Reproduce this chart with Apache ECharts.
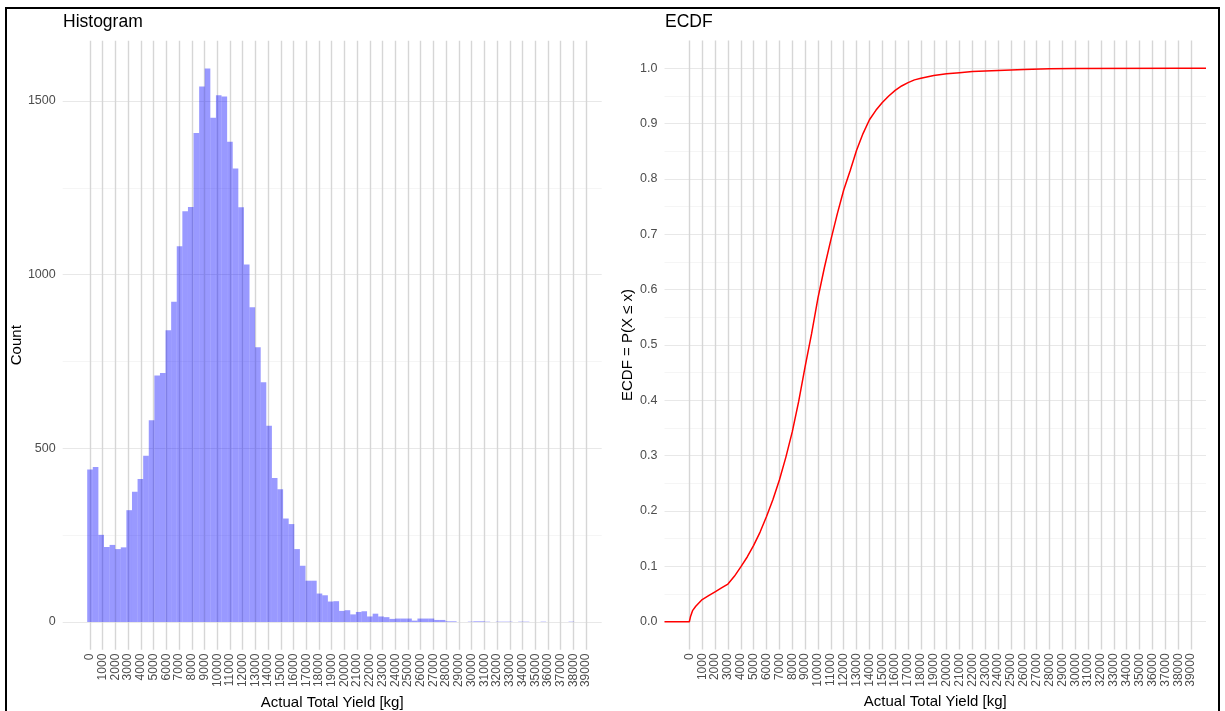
<!DOCTYPE html>
<html>
<head>
<meta charset="utf-8">
<title>Histogram / ECDF</title>
<script src="https://cdn.jsdelivr.net/npm/echarts@6/dist/echarts.min.js"></script>
<style>
  html, body { margin: 0; padding: 0; background: #fff; }
  #chart { width: 1225px; height: 711px; }
</style>
</head>
<body>
<div id="chart"></div>
<script>
// histogram: bins of 440 kg, first bin centred on 0
var binWidth = 440;
var binCounts = [
  439, 446, 251, 216, 222, 210, 215, 322, 375, 412,
  479, 581, 710, 717, 840, 922, 1082, 1183, 1195, 1408,
  1542, 1594, 1452, 1517, 1513, 1383, 1306, 1194, 1029, 906,
  791, 690, 565, 415, 382, 298, 282, 210, 162, 119,
  119, 82, 77, 59, 60, 32, 34, 22, 29, 31,
  16, 24, 16, 14, 9, 10, 10, 10, 4, 10,
  10, 10, 6, 6, 2, 2, 0, 0, 1, 2,
  2, 1, 0, 1, 1, 1, 0, 1, 1, 0,
  0, 1, 0, 0, 0, 0, 1, 0
];

// ecdf
var ecdfX = [0, 100, 250, 500, 1000, 1500, 2000, 2500, 3000, 3500,
  4000, 4500, 5000, 5500, 6000, 6500, 7000, 7500, 8000, 8500,
  9000, 9500, 10000, 10500, 11000, 11500, 12000, 12500, 13000, 13500,
  14000, 14500, 15000, 15500, 16000, 16500, 17000, 17500, 18000, 19000,
  20000, 21000, 22000, 23000, 24000, 25000, 26000, 28000, 30000, 38200];
var ecdfY = [0, 0.01, 0.02, 0.028, 0.04, 0.047, 0.054, 0.061, 0.068, 0.082,
  0.099, 0.117, 0.138, 0.162, 0.19, 0.221, 0.256, 0.297, 0.343, 0.398,
  0.461, 0.52, 0.585, 0.64, 0.69, 0.737, 0.78, 0.815, 0.852, 0.882,
  0.907, 0.924, 0.938, 0.95, 0.96, 0.968, 0.974, 0.979, 0.982, 0.987,
  0.99, 0.992, 0.994, 0.995, 0.996, 0.997, 0.998, 0.999, 0.9995, 1.0];

var xTicks = [];
for (var t = 0; t <= 39000; t += 1000) xTicks.push(t);
var countTicks = [0, 500, 1000, 1500];
var countMinor = [250, 750, 1250];
var ecdfTicks = [0, 0.1, 0.2, 0.3, 0.4, 0.5, 0.6, 0.7, 0.8, 0.9, 1.0];
var ecdfMinor = [0.05, 0.15, 0.25, 0.35, 0.45, 0.55, 0.65, 0.75, 0.85, 0.95];

var histRange = [-2146, 40226];
var ecdfRange = [-1930, 40160];

var histData = binCounts.map(function (c, i) { return [i * binWidth, c]; });
var ecdfData = [[ecdfRange[0], 0]];
for (var i = 0; i < ecdfX.length; i++) ecdfData.push([ecdfX[i], ecdfY[i]]);
ecdfData.push([ecdfRange[1], 1]);

var fam = 'Liberation Sans, Arial, sans-serif';
var labelFont = { color: '#4d4d4d', fontSize: 12.5, fontFamily: fam };
var nameFont = { color: '#000', fontSize: 15, fontFamily: fam };

function xAxisFor(idx, range) {
  return {
    type: 'value', gridIndex: idx, min: range[0], max: range[1],
    name: 'Actual Total Yield [kg]', nameLocation: 'middle', nameGap: 44,
    nameTextStyle: nameFont,
    axisLine: { show: false },
    axisTick: { show: false, customValues: xTicks },
    axisLabel: Object.assign({ customValues: xTicks, rotate: 90, margin: 4,
      interval: 0, hideOverlap: false,
      formatter: function (v) { return String(v); } }, labelFont, { fontSize: 12 }),
    splitLine: { show: true, lineStyle: { color: '#d6d6d6', width: 1.4 } }
  };
}

function yAxisFor(idx, range, ticks, fmt, name, gap) {
  return {
    type: 'value', gridIndex: idx, min: range[0], max: range[1],
    name: name, nameLocation: 'middle', nameGap: gap, nameTextStyle: nameFont,
    axisLine: { show: false },
    axisTick: { show: false, customValues: ticks },
    axisLabel: Object.assign({ customValues: ticks, margin: 7, formatter: fmt,
      showMinLabel: true, showMaxLabel: true }, labelFont),
    splitLine: { show: true, lineStyle: { color: '#e8e8e8', width: 1 } }
  };
}

function minorAxisFor(idx, range, ticks) {
  return {
    type: 'value', gridIndex: idx, min: range[0], max: range[1],
    axisLine: { show: false },
    axisTick: { show: false, customValues: ticks },
    axisLabel: { show: false, customValues: ticks },
    splitLine: { show: true, lineStyle: { color: '#f3f3f3', width: 0.8 } }
  };
}

var titleStyle = { fontSize: 17.5, fontWeight: 'normal', color: '#000', fontFamily: fam };

var chart = echarts.init(document.getElementById('chart'));
chart.setOption({
  animation: false,
  backgroundColor: '#fff',
  title: [
    { text: 'Histogram', left: 63, top: 13, padding: 0, textStyle: titleStyle },
    { text: 'ECDF', left: 665, top: 13, padding: 0, textStyle: titleStyle }
  ],
  graphic: [{
    type: 'rect', z: 100, silent: true,
    shape: { x: 6, y: 8, width: 1213, height: 710 },
    style: { fill: 'none', stroke: '#000', lineWidth: 2 }
  }],
  grid: [
    { left: 62.7, right: 623.3, top: 40.7, bottom: 61.3, outerBoundsMode: 'none', containLabel: false },
    { left: 664.5, right: 19, top: 40.6, bottom: 61.6, outerBoundsMode: 'none', containLabel: false }
  ],
  xAxis: [xAxisFor(0, histRange), xAxisFor(1, ecdfRange)],
  yAxis: [
    yAxisFor(0, [-79.7, 1673.7], countTicks, function (v) { return String(v); }, 'Count', 38),
    minorAxisFor(0, [-79.7, 1673.7], countMinor),
    yAxisFor(1, [-0.05, 1.05], ecdfTicks, function (v) { return v.toFixed(1); }, 'ECDF = P(X \u2264 x)', 29),
    minorAxisFor(1, [-0.05, 1.05], ecdfMinor)
  ],
  series: [
    {
      type: 'custom', xAxisIndex: 0, yAxisIndex: 0,
      data: histData,
      renderItem: function (params, api) {
        var c = api.value(0), h = api.value(1);
        if (!h) return null;
        var p0 = api.coord([c - binWidth / 2, h]);
        var p1 = api.coord([c + binWidth / 2, 0]);
        return {
          type: 'rect',
          shape: { x: p0[0], y: p0[1], width: p1[0] - p0[0], height: p1[1] - p0[1] },
          style: { fill: 'rgba(0,0,255,0.4)' }
        };
      }
    },
    {
      type: 'line', xAxisIndex: 1, yAxisIndex: 2,
      data: ecdfData, showSymbol: false, smooth: false,
      lineStyle: { color: '#ff0000', width: 1.5 }
    }
  ]
});
</script>
</body>
</html>
